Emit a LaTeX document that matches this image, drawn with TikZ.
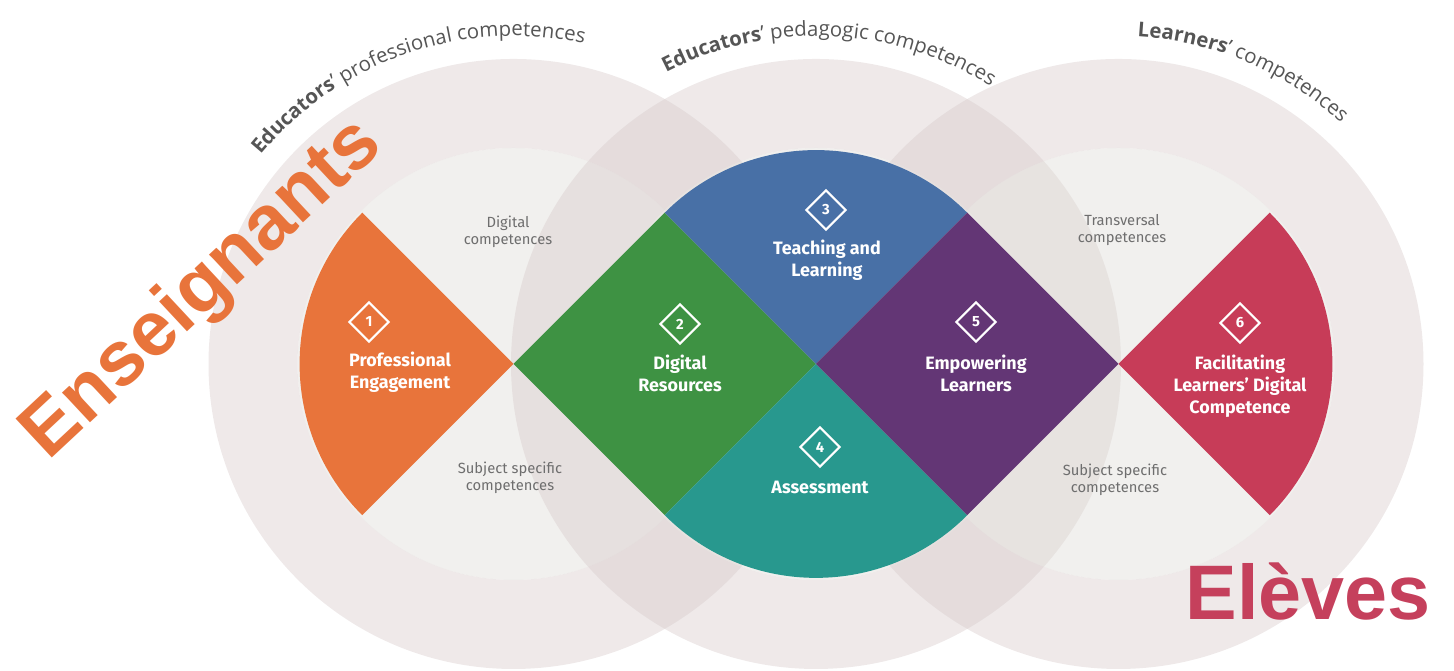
\documentclass[tikz,border=0pt]{standalone}
\usepackage{fontspec}
\setmainfont{Open Sans}
\newfontfamily\labelfont{Fira Sans}
\newfontfamily\bigfont{Liberation Sans}
\usetikzlibrary{calc,decorations.text,shapes.geometric}
\definecolor{ringcol}{HTML}{D6C9C9}
\definecolor{corecol}{HTML}{DCD9D4}
\definecolor{arcgray}{HTML}{555555}
\definecolor{hintgray}{HTML}{6E6E6E}
\definecolor{engorange}{HTML}{E8743B}
\definecolor{resgreen}{HTML}{3E9243}
\definecolor{teachblue}{HTML}{4870A6}
\definecolor{assteal}{HTML}{28988E}
\definecolor{emppurple}{HTML}{633675}
\definecolor{facred}{HTML}{C73C58}
\definecolor{elvred}{HTML}{C5405C}
\newcommand{\secr}{2.139}
\newcommand{\arcbf}{\fontsize{5.8}{7}\selectfont\bfseries}
\newcommand{\arcmd}{\fontsize{5.8}{7}\selectfont\mdseries}
\begin{document}
\begin{tikzpicture}[
    ring/.style={fill=ringcol,fill opacity=0.4,even odd rule},
    core/.style={fill=corecol,fill opacity=0.4},
    title/.style={font=\labelfont\bfseries\fontsize{5.1}{6.3}\selectfont,text=white,align=center},
    hint/.style={font=\labelfont\fontsize{4.2}{4.8}\selectfont,text=hintgray,align=center},
    badge/.style={diamond,draw=white,line width=0.6pt,minimum size=0.4cm,inner sep=0pt,
      text=white,font=\labelfont\bfseries\fontsize{4.2}{5}\selectfont},
    arclabel/.style={decorate,decoration={text along path,text align=center,text color=arcgray}},
    big/.style={font=\bigfont\bfseries\fontsize{22}{24}\selectfont}
  ]
    \useasboundingbox (0,0) rectangle (14.54,6.71);
    \coordinate (L) at (5.135,3.07);
    \coordinate (M) at (8.16,3.07);
    \coordinate (R) at (11.185,3.07);
    %
    \foreach \c in {L,M,R} {
      \fill[ring] (\c) circle (3.05) (\c) circle (2.16);
      \fill[core] (\c) circle (2.16);
    }
    %
    \coordinate (lt) at ($(L)+(45:\secr)$);
    \coordinate (lb) at ($(L)+(-45:\secr)$);
    \coordinate (rt) at ($(M)+(45:\secr)$);
    \coordinate (rb) at ($(M)+(-45:\secr)$);
    \fill[engorange]  (L) -- ++(135:\secr) arc[start angle=135,end angle=225,radius=\secr] -- cycle;
    \fill[resgreen]   (L) -- (lt) -- (M) -- (lb) -- cycle;
    \fill[teachblue]  (M) -- (lt) arc[start angle=135,end angle=45,radius=\secr] -- cycle;
    \fill[assteal]    (M) -- (lb) arc[start angle=225,end angle=315,radius=\secr] -- cycle;
    \fill[emppurple]  (M) -- (rt) -- (R) -- (rb) -- cycle;
    \fill[facred]     (R) -- ++(45:\secr) arc[start angle=45,end angle=-45,radius=\secr] -- cycle;
    %
    \path[arclabel,decoration={text={|\arcbf|Educators|\arcmd|’ professional competences}}]
      (L) ++(150:3.28) arc[start angle=150,end angle=68,radius=3.28];
    \path[arclabel,decoration={text={|\arcbf|Educators|\arcmd|’ pedagogic competences}}]
      (M) ++(128:3.28) arc[start angle=128,end angle=47,radius=3.28];
    \path[arclabel,decoration={text={|\arcbf|Learners|\arcmd|’ competences}}]
      (R) ++(107:3.28) arc[start angle=107,end angle=27,radius=3.28];
    %
    \node[badge] (n1) at (3.69,3.49) {1};
    \node[title] (t1) at (4.00,2.99) {Professional\\Engagement};
    \node[badge] (n2) at (6.80,3.47) {2};
    \node[title] (t2) at (6.80,2.975) {Digital\\Resources};
    \node[badge] (n3) at (8.26,4.61) {3};
    \node[title] (t3) at (8.27,4.105) {Teaching and\\Learning};
    \node[badge] (n4) at (8.20,2.24) {4};
    \node[title] (t4) at (8.20,1.84) {Assessment};
    \node[badge] (n5) at (9.76,3.49) {5};
    \node[title] (t5) at (9.76,2.975) {Empowering\\Learners};
    \node[badge] (n6) at (12.40,3.48) {6};
    \node[title] (t6) at (12.40,2.85) {Facilitating\\Learners’ Digital\\Competence};
    %
    \node[hint] (h1) at (5.08,4.39) {Digital\\competences};
    \node[hint] (h2) at (5.10,1.93) {Subject specific\\competences};
    \node[hint] (h3) at (11.22,4.41) {Transversal\\competences};
    \node[hint] (h4) at (11.15,1.91) {Subject specific\\competences};
    %
    \node[big,text=engorange,rotate=43] (ens) at (2.03,3.81) {Enseignants};
    \node[big,text=elvred] (elv) at (13.08,0.79) {Elèves};
  \end{tikzpicture}
\end{document}
